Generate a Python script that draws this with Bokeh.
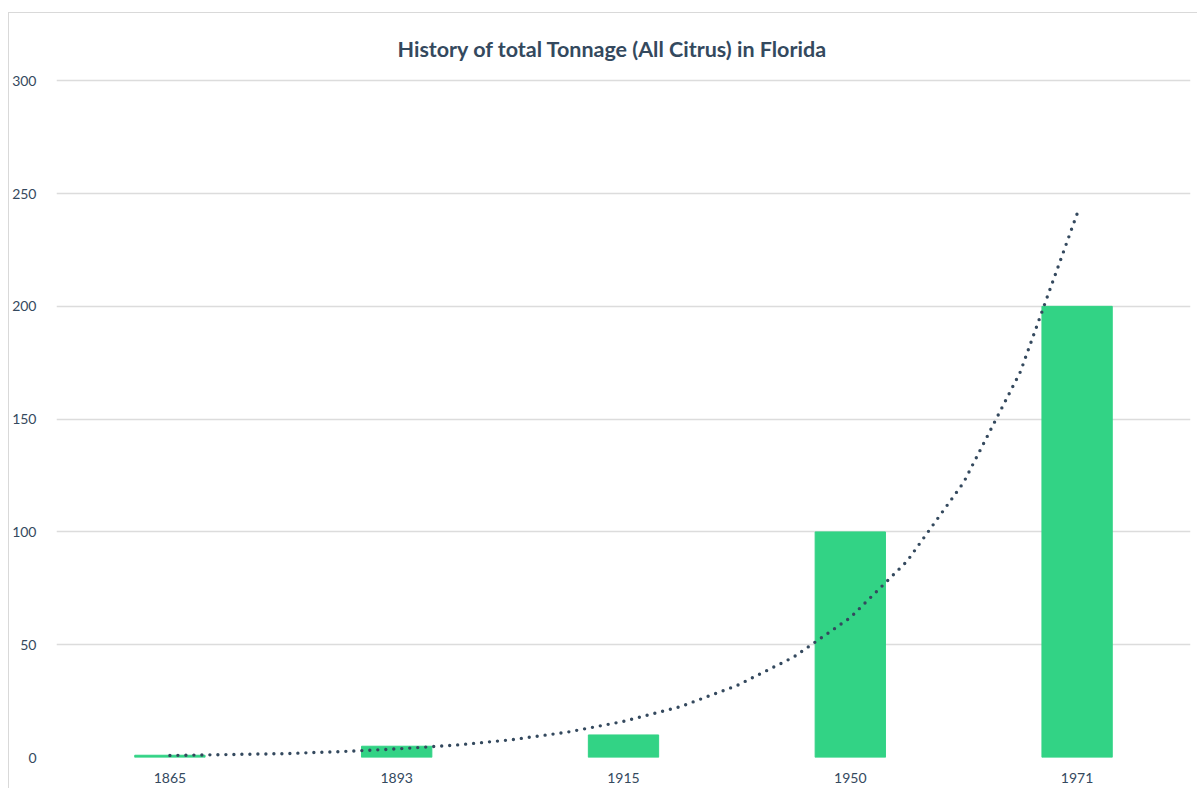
from bokeh.plotting import figure
from bokeh.models import FixedTicker, Range1d
from bokeh.embed import file_html
from bokeh.resources import INLINE

# ---- data ----
title_text = "History of total Tonnage (All Citrus) in Florida"
years = ["1865", "1893", "1915", "1950", "1971"]
tonnage = [1, 5, 10, 100, 200]
# exponential trendline at quarter-category steps
trend_pos = [1.0, 1.25, 1.5, 1.75, 2.0, 2.25, 2.5, 2.75, 3.0, 3.25, 3.5, 3.75, 4.0, 4.25, 4.5, 4.75, 5.0]
trend_val = [0.9, 1.3, 1.7, 2.6, 3.8, 5.4, 7.8, 11.2, 16.0, 22.5, 31.9, 44.5, 62.0, 87.0, 122.0, 171.0, 241.0]
y_ticks = [0, 50, 100, 150, 200, 250, 300]

positions = list(range(1, len(years) + 1))

TEXT = "#34495e"
FONT = "Lato"
W, H = 1189, 776

p = figure(width=W, height=H, output_backend="svg", toolbar_location=None,
           x_range=Range1d(0.5, len(years) + 0.5), y_range=Range1d(0, 301),
           min_border_left=47, min_border_right=8, min_border_top=65, min_border_bottom=32,
           title=title_text)
p.styles = {"border-left": "1px solid #d9d9d9", "border-top": "1px solid #d9d9d9",
            "margin-top": "12px", "margin-left": "8px"}

p.title.align = "left"
p.title.offset = 341
p.title.text_font = FONT
p.title.text_font_size = "21.5px"
p.title.text_font_style = "bold"
p.title.text_color = TEXT
p.title.standoff = 34

p.vbar(x=positions, top=tonnage, width=0.31, color="#32d385")
p.line(trend_pos, trend_val, line_color="#34495e", line_width=3.4, line_dash="0 8", line_cap="round")

p.outline_line_color = None
p.xgrid.grid_line_color = None
p.ygrid.grid_line_color = "#dcdcdc"
p.ygrid.grid_line_width = 1.5
p.ygrid.ticker = FixedTicker(ticks=y_ticks)

p.yaxis.ticker = FixedTicker(ticks=y_ticks)
p.xaxis.ticker = FixedTicker(ticks=positions)
p.xaxis.major_label_overrides = {i: y for i, y in zip(positions, years)}

for ax in (p.xaxis, p.yaxis):
    ax.axis_line_color = None
    ax.major_tick_line_color = None
    ax.minor_tick_line_color = None
    ax.major_label_text_font = FONT
    ax.major_label_text_font_size = "14px"
    ax.major_label_text_color = TEXT
p.yaxis.major_label_standoff = 14
p.xaxis.major_label_standoff = 9

open("out.html", "w").write(file_html(p, INLINE))
